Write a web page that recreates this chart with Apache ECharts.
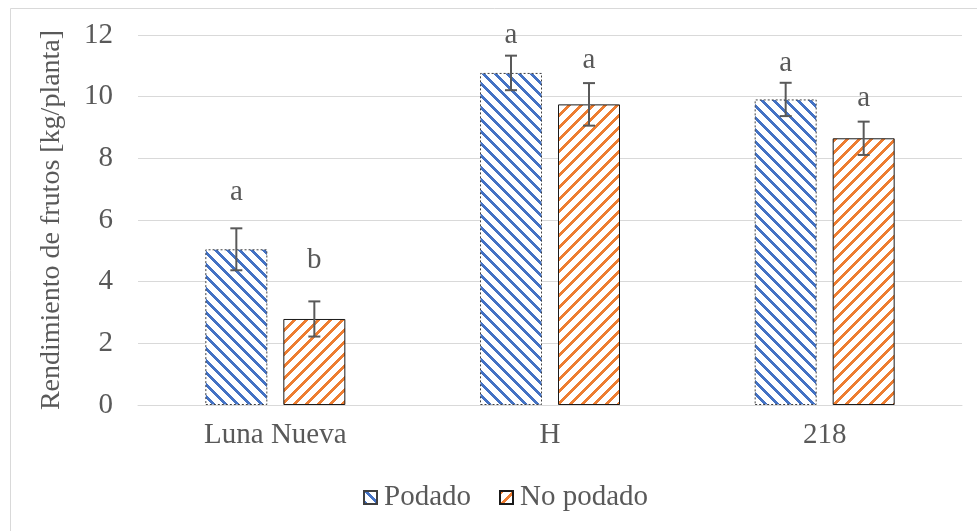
<!DOCTYPE html>
<html>
<head>
<meta charset="utf-8">
<script src="https://cdn.jsdelivr.net/npm/echarts@6/dist/echarts.min.js"></script>
<style>
  html, body { margin: 0; padding: 0; background: #fff; }
  #chart { width: 977px; height: 531px; }
</style>
</head>
<body>
<div id="chart"></div>
<script>
// values
const categories = ['Luna Nueva', 'H', '218']
const podado = [5.05, 10.77, 9.91]
const podadoErr = [0.68, 0.56, 0.54]
const noPodado = [2.79, 9.75, 8.65]
const noPodadoErr = [0.57, 0.69, 0.54]
// significance letters and the height they sit at
const podadoLetters = ['a', 'a', 'a']
const podadoLetterY = [6.88, 12.0, 11.09]
const noPodadoLetters = ['b', 'a', 'a']
const noPodadoLetterY = [4.7, 11.19, 9.96]

const textColor = '#595959'
const font = '"Liberation Serif", "Times New Roman", serif'
const fontSize = 29
const barWidth = 62
const barGapPx = 16

function stripes(color, down) {
  const size = 12
  const c = document.createElement('canvas')
  c.width = size
  c.height = size
  const ctx = c.getContext('2d')
  ctx.fillStyle = '#fff'
  ctx.fillRect(0, 0, size, size)
  ctx.fillStyle = color
  for (let x = 0; x < size; x++) {
    for (let y = 0; y < size; y++) {
      const k = down ? (x - y + size) % size : (x + y) % size
      if (k < 4) ctx.fillRect(x, y, 1, 1)
    }
  }
  return { image: c, repeat: 'repeat' }
}

function errorSeries(name, values, errs, letters, letterY, side) {
  return {
    name: name + '-err',
    type: 'custom',
    z: 5,
    silent: true,
    data: values.map((v, i) => [i, v, errs[i], letterY[i]]),
    renderItem: (params, api) => {
      const i = api.value(0)
      const v = api.value(1)
      const e = api.value(2)
      const dx = side * (barWidth + barGapPx) / 2
      const top = api.coord([i, v + e])
      const bot = api.coord([i, v - e])
      const lab = api.coord([i, api.value(3)])
      const x = top[0] + dx
      const cap = 6
      const style = { stroke: '#595959', lineWidth: 2 }
      return {
        type: 'group',
        children: [
          { type: 'line', shape: { x1: x, y1: top[1], x2: x, y2: bot[1] }, style },
          { type: 'line', shape: { x1: x - cap, y1: top[1], x2: x + cap, y2: top[1] }, style },
          { type: 'line', shape: { x1: x - cap, y1: bot[1], x2: x + cap, y2: bot[1] }, style },
          {
            type: 'text',
            x: x,
            y: lab[1],
            style: {
              text: letters[params.dataIndex],
              fill: textColor,
              font: fontSize + 'px ' + font,
              align: 'center',
              verticalAlign: 'middle'
            }
          }
        ]
      }
    }
  }
}

const chart = echarts.init(document.getElementById('chart'))
chart.setOption({
  animation: false,
  backgroundColor: '#fff',
  textStyle: { fontFamily: font, color: textColor },
  graphic: [{
    type: 'rect',
    left: 8,
    top: 6,
    shape: { width: 1200, height: 800 },
    style: { fill: 'none', stroke: '#d9d9d9', lineWidth: 1 },
    silent: true
  }],
  grid: { left: 138, right: 15, top: 35, bottom: 126 },
  legend: {
    data: ['Podado', 'No podado'],
    top: 478,
    left: 358,
    icon: 'rect',
    itemWidth: 13,
    itemHeight: 13,
    itemGap: 28,
    textStyle: { fontFamily: font, fontSize: fontSize, color: textColor, padding: [0, 0, 0, 2] }
  },
  xAxis: {
    type: 'category',
    data: categories,
    axisTick: { show: false },
    axisLine: { lineStyle: { color: '#d9d9d9', width: 1 } },
    axisLabel: { fontFamily: font, fontSize: fontSize, color: textColor, margin: 16 }
  },
  yAxis: {
    type: 'value',
    min: 0,
    max: 12,
    interval: 2,
    name: 'Rendimiento de frutos [kg/planta]',
    nameLocation: 'middle',
    nameGap: 72,
    nameTextStyle: { fontFamily: font, fontSize: 28, color: textColor },
    axisLine: { show: false },
    axisTick: { show: false },
    splitLine: { lineStyle: { color: '#d9d9d9', width: 1 } },
    axisLabel: { fontFamily: font, fontSize: fontSize, color: textColor, margin: 25 }
  },
  series: [
    {
      name: 'Podado',
      type: 'bar',
      data: podado,
      barWidth: barWidth,
      barGap: (barGapPx / barWidth * 100) + '%',
      itemStyle: {
        color: stripes('#4472C4', true),
        borderColor: '#404040',
        borderWidth: 1,
        borderType: [2, 2]
      }
    },
    {
      name: 'No podado',
      type: 'bar',
      data: noPodado,
      barWidth: barWidth,
      itemStyle: {
        color: stripes('#ED7D31', false),
        borderColor: '#1a1a1a',
        borderWidth: 1
      }
    },
    errorSeries('Podado', podado, podadoErr, podadoLetters, podadoLetterY, -1),
    errorSeries('No podado', noPodado, noPodadoErr, noPodadoLetters, noPodadoLetterY, 1)
  ]
})
</script>
</body>
</html>
